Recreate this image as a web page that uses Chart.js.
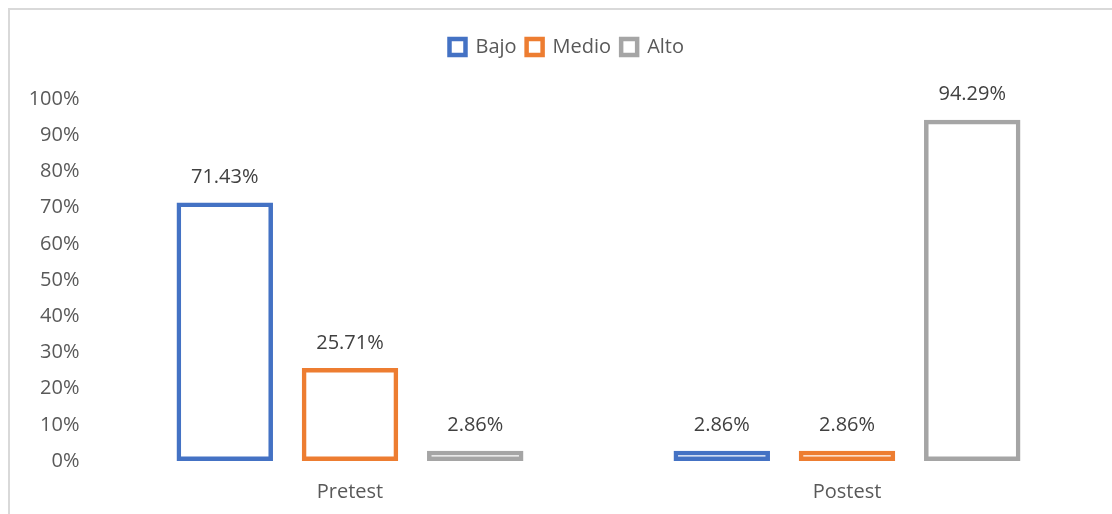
<!DOCTYPE html>
<html>
<head>
<meta charset="utf-8">
<script src="https://cdn.jsdelivr.net/npm/chart.js@4.4.1/dist/chart.umd.min.js"></script>
<style>
  html, body { margin: 0; padding: 0; background: #fff; overflow: hidden; }
  #wrap { position: relative; width: 1112px; height: 514px; }
  #frame {
    position: absolute; left: 8px; top: 8px; width: 1200px; height: 600px;
    border-top: 2px solid #d9d9d9; border-left: 2px solid #d9d9d9;
    pointer-events: none;
  }
</style>
</head>
<body>
<div id="wrap">
  <canvas id="levelChart" width="1112" height="514"></canvas>
  <div id="frame"></div>
</div>
<script>
// =============== DATA ===============
const categories = ['Pretest', 'Postest'];
const bajo  = [71.43, 2.86];
const medio = [25.71, 2.86];
const alto  = [2.86, 94.29];
const yTicks = [0, 10, 20, 30, 40, 50, 60, 70, 80, 90, 100];
// ====================================

const FONT = "'Open Sans', sans-serif";

// Data labels above each bar
const barLabels = {
  id: 'barLabels',
  afterDatasetsDraw(chart) {
    const ctx = chart.ctx;
    ctx.save();
    ctx.font = '20px ' + FONT;
    ctx.fillStyle = '#404040';
    ctx.textAlign = 'center';
    ctx.textBaseline = 'middle';
    chart.data.datasets.forEach((ds, i) => {
      chart.getDatasetMeta(i).data.forEach((bar, j) => {
        ctx.fillText(ds.data[j].toFixed(2) + '%', bar.x, bar.y - 25);
      });
    });
    ctx.restore();
  }
};

// Extra room under the legend, and nudge it right
const legendGap = {
  id: 'legendGap',
  afterInit(chart) {
    const fit = chart.legend.fit;
    chart.legend.fit = function () {
      fit.bind(chart.legend)();
      this.height += 32;
    };
  },
  afterLayout(chart) {
    chart.legend.left += 14;
    chart.legend.right += 14;
  }
};

function makeSet(label, color, data) {
  return {
    label: label,
    data: data,
    backgroundColor: 'rgba(255,255,255,0)',
    borderColor: color,
    borderWidth: 4.5,
    borderSkipped: false,
    categoryPercentage: 0.756,
    barPercentage: 0.77
  };
}

const ctx = document.getElementById('levelChart').getContext('2d');
new Chart(ctx, {
  type: 'bar',
  data: {
    labels: categories,
    datasets: [
      makeSet('Bajo', '#4472C4', bajo),
      makeSet('Medio', '#ED7D31', medio),
      makeSet('Alto', '#A5A5A5', alto)
    ]
  },
  options: {
    responsive: false,
    animation: false,
    layout: { padding: { left: 10, right: 16.5, top: 27, bottom: 13 } },
    scales: {
      x: {
        grid: { display: false, drawTicks: false },
        border: { display: false },
        ticks: { color: '#595959', font: { family: FONT, size: 20 }, padding: 19 },
        afterFit(scale) { scale.height = 40; }
      },
      y: {
        min: 0,
        max: 100,
        grid: { display: false, drawTicks: false },
        border: { display: false },
        afterBuildTicks(scale) { scale.ticks = yTicks.map(v => ({ value: v })); },
        ticks: {
          color: '#595959',
          font: { family: FONT, size: 20 },
          padding: 22,
          callback: v => v + '%'
        },
        afterFit(scale) { scale.width = 91.5; }
      }
    },
    plugins: {
      legend: {
        display: true,
        position: 'top',
        labels: {
          color: '#595959',
          font: { family: FONT, size: 20 },
          boxWidth: 16,
          boxHeight: 16,
          padding: 10,
          generateLabels(chart) {
            return chart.data.datasets.map((ds, i) => ({
              text: ds.label,
              fillStyle: '#ffffff',
              strokeStyle: ds.borderColor,
              lineWidth: 4.5,
              fontColor: '#595959',
              datasetIndex: i
            }));
          }
        }
      },
      tooltip: { enabled: false }
    }
  },
  plugins: [barLabels, legendGap]
});
</script>
</body>
</html>
